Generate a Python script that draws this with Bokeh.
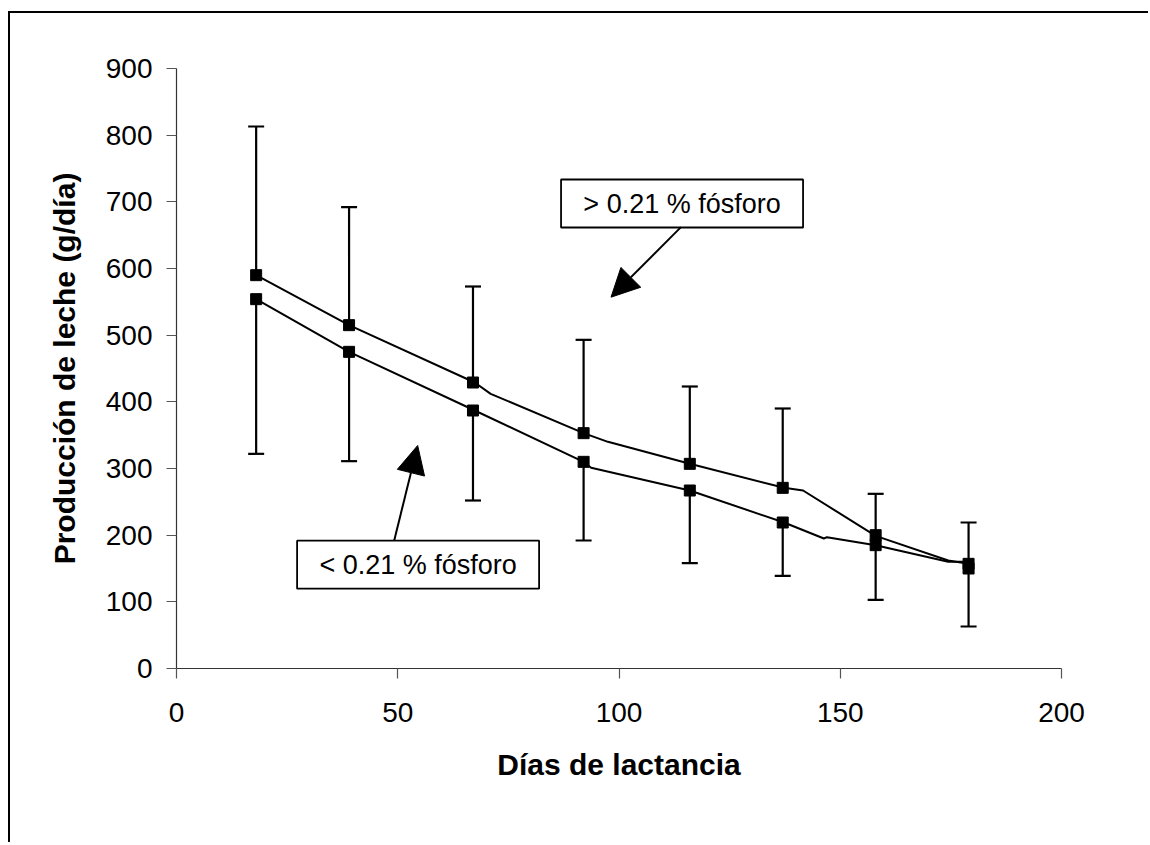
from bokeh.plotting import figure
from bokeh.models import Range1d, FixedTicker, Arrow, NormalHead
from bokeh.embed import file_html
from bokeh.resources import INLINE

# ---- data ----
dias = [18, 39, 67, 92, 116, 137, 158, 179]
alto_p = [590, 515, 429, 353, 307, 271, 200, 157]      # > 0.21 % fósforo
bajo_p = [554, 475, 387, 310, 267, 219, 185, 150]      # < 0.21 % fósforo
alto_err_sup = [813, 692, 573, 493, 423, 390, 262, 219]
bajo_err_inf = [322, 311, 252, 192, 158, 139, 103, 63]

# drawn connecting lines (as in the original, with their own vertices)
alto_linea_x = [18, 39, 67.4, 71, 92, 97.5, 116, 137.3, 141.6, 158, 174.4, 179]
alto_linea_y = [590, 515, 429, 412, 353, 340, 307, 271, 267, 199, 162, 157]
bajo_linea_x = [18, 39, 67.4, 92, 93.7, 116, 137.3, 146.3, 147.0, 158, 174.4, 179]
bajo_linea_y = [554, 475, 387, 310, 301, 267, 219, 195, 197, 185, 160, 160]

x_ticks = [0, 50, 100, 150, 200]
y_ticks = [0, 100, 200, 300, 400, 500, 600, 700, 800, 900]

etiqueta_alto = "> 0.21 % fósforo"
etiqueta_bajo = "< 0.21 % fósforo"

FONT = "Liberation Sans"

# canvas origin placed at page (10, 13); frame lines drawn as a box-shadow
W, H = 1140, 831
p = figure(width=W, height=H, output_backend="svg", toolbar_location=None,
           x_range=Range1d(0, 200), y_range=Range1d(0, 900),
           min_border_left=166, min_border_right=W - 1051, min_border_top=55,
           min_border_bottom=H - 655,
           background_fill_color="white", border_fill_color="white",
           styles={"margin-left": "10px", "margin-top": "13px",
                   "box-shadow": "-2px -2px 0px 0px black"})
p.outline_line_color = None
p.grid.visible = False

for ax in (p.xaxis[0], p.yaxis[0]):
    ax.axis_line_color = "#333333"
    ax.axis_line_width = 1.2
    ax.major_tick_line_color = "#555555"
    ax.major_tick_line_width = 1.2
    ax.major_tick_in = 0
    ax.major_tick_out = 10
    ax.minor_tick_line_color = None
    ax.major_label_text_font = FONT
    ax.major_label_text_font_size = "28px"
    ax.major_label_text_color = "black"
    ax.axis_label_text_font = FONT
    ax.axis_label_text_font_size = "30px"
    ax.axis_label_text_font_style = "bold"
    ax.axis_label_text_color = "black"

p.xaxis.ticker = FixedTicker(ticks=x_ticks)
p.yaxis.ticker = FixedTicker(ticks=y_ticks)
p.xaxis.axis_label = "Días de lactancia"
p.yaxis.axis_label = "Producción de leche (g/día)"
p.xaxis.major_label_standoff = 24
p.yaxis.major_label_standoff = 14
p.xaxis.axis_label_standoff = 23
p.yaxis.axis_label_standoff = 22

# lines
p.line(alto_linea_x, alto_linea_y, line_color="black", line_width=2)
p.line(bajo_linea_x, bajo_linea_y, line_color="black", line_width=2)

# error bars
p.segment(dias, alto_p, dias, alto_err_sup, line_color="black", line_width=2.2)
p.scatter(dias, alto_err_sup, marker="dash", size=16, line_color="black", line_width=2.2)
p.segment(dias, bajo_p, dias, bajo_err_inf, line_color="black", line_width=2.2)
p.scatter(dias, bajo_err_inf, marker="dash", size=16, line_color="black", line_width=2.2)

# markers
p.scatter(dias, alto_p, marker="square", size=11, fill_color="black", line_color="black")
p.scatter(dias, bajo_p, marker="square", size=11, fill_color="black", line_color="black")

# annotation boxes
box_x = [114.25, 54.6]
box_y = [697.5, 155.7]
p.rect(box_x, box_y, width=242, height=48, width_units="screen", height_units="screen",
       fill_color="white", line_color="black", line_width=1.8)
p.text(box_x, box_y, text=[etiqueta_alto, etiqueta_bajo], text_font={"value": FONT},
       text_font_size="27px", text_align="center", text_baseline="middle", text_color="black")

# arrows
p.add_layout(Arrow(x_start=114.0, y_start=662, x_end=98.2, y_end=557, line_width=2,
                   end=NormalHead(size=28, fill_color="black", line_color="black")))
p.add_layout(Arrow(x_start=49.2, y_start=192, x_end=54.5, y_end=334.5, line_width=2,
                   end=NormalHead(size=28, fill_color="black", line_color="black")))

open("out.html", "w").write(file_html(p, INLINE))
